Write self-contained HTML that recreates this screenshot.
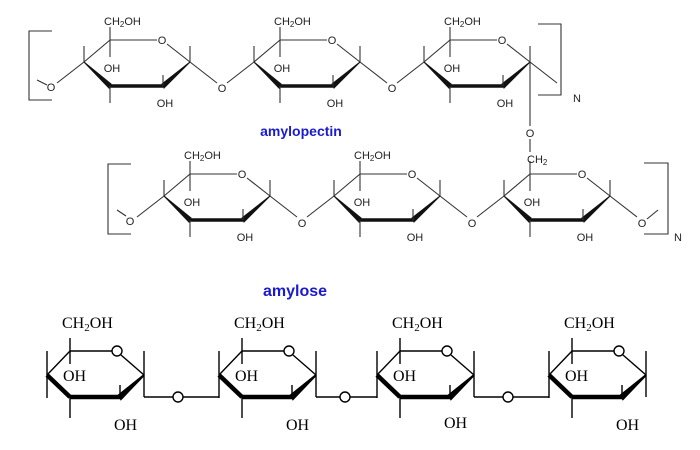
<!DOCTYPE html>
<html><head><meta charset="utf-8"><style>
body{margin:0;background:#fff;width:700px;height:450px;overflow:hidden}
svg{display:block}
.s text{font-family:"Liberation Sans",sans-serif;font-size:11px;fill:#222}
.r text{font-family:"Liberation Serif",serif;font-size:16px;fill:#000}
</style></head><body>
<svg width="700" height="450" viewBox="0 0 700 450">
<defs>
<g id="tr" stroke="#333" stroke-width="1.1" fill="none">
  <line x1="-26" y1="22" x2="0" y2="0"/>
  <line x1="0" y1="0" x2="47" y2="0"/>
  <line x1="57" y1="4" x2="80" y2="22"/>
  <polygon points="-26,22 1,44 -1,48" fill="#111" stroke="#111"/>
  <line x1="0" y1="46" x2="53" y2="46" stroke="#111" stroke-width="3.5"/>
  <polygon points="52,44 54,48 80,22" fill="#111" stroke="#111"/>
  <line x1="0" y1="-13" x2="0" y2="17"/>
  <line x1="-26" y1="22" x2="-26" y2="6"/>
  <line x1="0" y1="46" x2="0" y2="63"/>
  <line x1="53" y1="46" x2="53" y2="35"/>
  <line x1="80" y1="22" x2="80" y2="6"/>
  <line x1="80" y1="22" x2="107" y2="43"/>
  <line x1="-53" y1="43" x2="-26" y2="22"/>
</g>
<g id="ar" stroke="#000" stroke-width="1.4" fill="none">
  <line x1="-23" y1="24" x2="0" y2="0"/>
  <line x1="0" y1="0" x2="42" y2="0"/>
  <circle cx="47" cy="0" r="5"/>
  <line x1="51" y1="4" x2="74" y2="24"/>
  <line x1="-23" y1="24" x2="0" y2="46" stroke-width="4.5"/>
  <line x1="0" y1="46" x2="50" y2="46" stroke-width="4.5"/>
  <polygon points="49,44 51,48 74,24" fill="#000" stroke-width="2"/>
  <line x1="-23" y1="0" x2="-23" y2="47"/>
  <line x1="0" y1="-13" x2="0" y2="13"/>
  <line x1="0" y1="46" x2="0" y2="67"/>
  <line x1="50" y1="46" x2="50" y2="34"/>
  <line x1="74" y1="0" x2="74" y2="46"/>
</g>
</defs>
<g class="s">
<use href="#tr" x="110" y="40"/><use href="#tr" x="280" y="40"/><use href="#tr" x="450" y="40"/>
<use href="#tr" x="190" y="174"/><use href="#tr" x="360" y="174"/><use href="#tr" x="530" y="174"/>
<g stroke="#333" stroke-width="1.1" fill="none">
<polyline points="52,31 29,31 29,100 52,100"/>
<line x1="37" y1="80" x2="47" y2="85"/>
<polyline points="538,24 561,24 561,95 538,95"/>
<line x1="530" y1="62" x2="530" y2="126"/>
<line x1="530" y1="139" x2="530" y2="152"/>
<polyline points="131,164 108,164 108,234 131,234"/>
<line x1="117" y1="210" x2="126" y2="216"/>
<polyline points="644,163 668,163 668,234 644,234"/>
<line x1="647" y1="219" x2="658" y2="210"/>
</g>
<g text-anchor="middle">
<text x="51" y="91">O</text>
<text x="222" y="92">O</text><text x="392" y="92">O</text>
<text x="530" y="137">O</text>
<text x="130" y="225">O</text>
<text x="302" y="227">O</text><text x="472" y="227">O</text><text x="642" y="227">O</text>
</g>
<text x="573" y="102">N</text><text x="674" y="241">N</text>
<text x="527" y="163">CH<tspan font-size="8" dy="2">2</tspan></text>
</g>
<g class="s" font-size="11">
<g id="lbl"></g>
</g>
<g class="s" text-anchor="start">
<text x="104" y="25">CH<tspan font-size="8" dy="2">2</tspan><tspan dy="-2">OH</tspan></text>
<text x="274" y="25">CH<tspan font-size="8" dy="2">2</tspan><tspan dy="-2">OH</tspan></text>
<text x="444" y="25">CH<tspan font-size="8" dy="2">2</tspan><tspan dy="-2">OH</tspan></text>
<text x="184" y="159">CH<tspan font-size="8" dy="2">2</tspan><tspan dy="-2">OH</tspan></text>
<text x="354" y="159">CH<tspan font-size="8" dy="2">2</tspan><tspan dy="-2">OH</tspan></text>
</g>
<g class="s" text-anchor="middle" style="font-size:10px">
<text x="112" y="72">OH</text><text x="165" y="107">OH</text>
<text x="282" y="72">OH</text><text x="335" y="107">OH</text>
<text x="452" y="72">OH</text><text x="505" y="107">OH</text>
<text x="192" y="206">OH</text><text x="245" y="241">OH</text>
<text x="362" y="206">OH</text><text x="415" y="241">OH</text>
<text x="532" y="206">OH</text><text x="585" y="241">OH</text>
</g>
<g class="s" text-anchor="middle"><text x="162" y="44">O</text><text x="332" y="44">O</text><text x="502" y="44">O</text><text x="242" y="178">O</text><text x="412" y="178">O</text><text x="582" y="178">O</text></g>
<text x="301" y="136" text-anchor="middle" font-family="Liberation Sans,sans-serif" font-weight="bold" font-size="14" fill="#1a1ad0">amylopectin</text>
<text x="295" y="296" text-anchor="middle" font-family="Liberation Sans,sans-serif" font-weight="bold" font-size="16" fill="#1a1ad0">amylose</text>
<g class="r">
<use href="#ar" x="70" y="351"/><use href="#ar" x="242" y="351"/><use href="#ar" x="400" y="351"/><use href="#ar" x="572" y="351"/>
<g stroke="#000" stroke-width="1.4" fill="none">
<line x1="144" y1="397" x2="173" y2="397"/><circle cx="178" cy="397" r="5"/><line x1="183" y1="397" x2="219" y2="397"/>
<line x1="316" y1="397" x2="340" y2="397"/><circle cx="345" cy="397" r="5"/><line x1="350" y1="397" x2="377" y2="397"/>
<line x1="474" y1="397" x2="503" y2="397"/><circle cx="508" cy="397" r="5"/><line x1="513" y1="397" x2="549" y2="397"/>
</g>
<text x="62" y="328">CH<tspan font-size="11" dy="3">2</tspan><tspan dy="-3">OH</tspan></text>
<text x="234" y="328">CH<tspan font-size="11" dy="3">2</tspan><tspan dy="-3">OH</tspan></text>
<text x="392" y="328">CH<tspan font-size="11" dy="3">2</tspan><tspan dy="-3">OH</tspan></text>
<text x="564" y="328">CH<tspan font-size="11" dy="3">2</tspan><tspan dy="-3">OH</tspan></text>
<text x="63" y="381">OH</text><text x="235" y="381">OH</text><text x="393" y="381">OH</text><text x="565" y="381">OH</text>
<text x="114" y="430">OH</text><text x="286" y="430">OH</text><text x="444" y="428">OH</text><text x="616" y="430">OH</text>
</g>
</svg>
</body></html>
